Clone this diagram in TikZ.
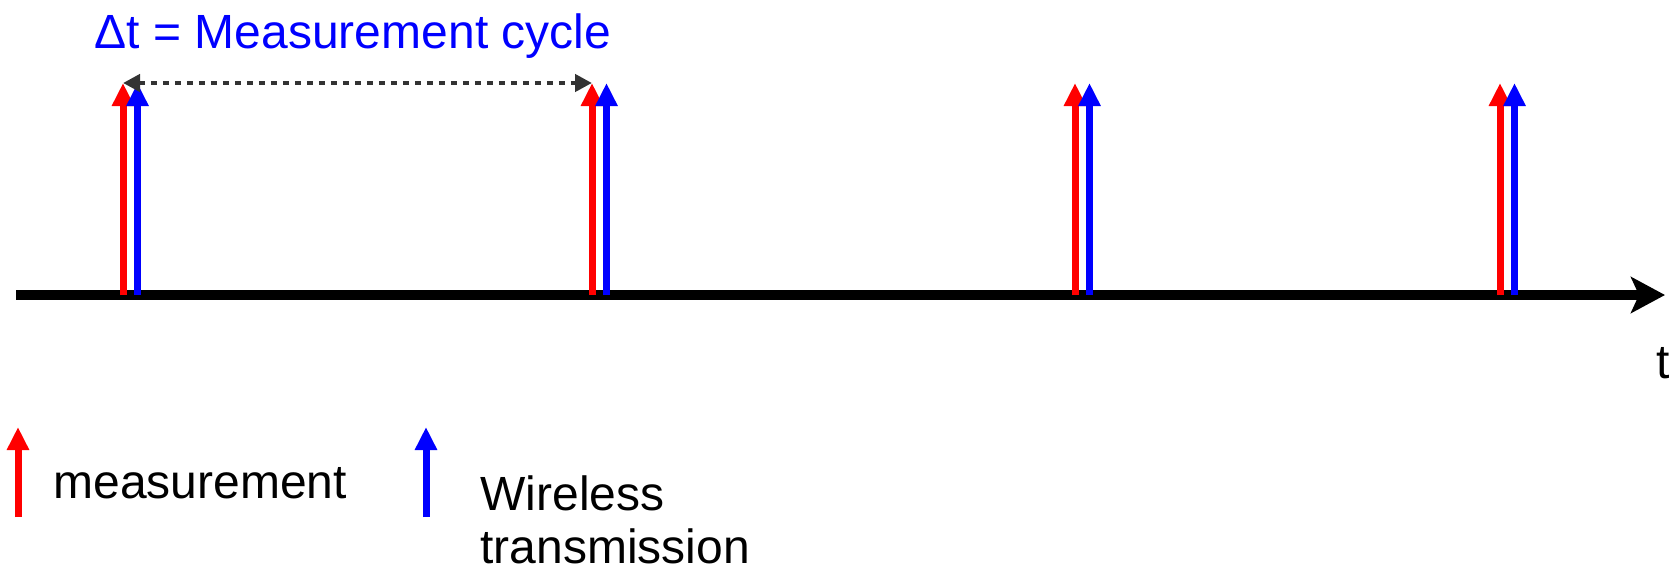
\documentclass[tikz,border=0pt]{standalone}
\usepackage{fontspec}
\setmainfont{Liberation Sans}
\usetikzlibrary{arrows.meta}
\definecolor{dotgray}{RGB}{51,51,51}
\begin{document}
\begin{tikzpicture}[x=0.5pt,y=-0.5pt]
\tikzstyle{every node}+=[inner sep=0pt]
\tikzstyle{lbl}=[font=\fontsize{24}{26.5}\selectfont]
\tikzstyle{pulse}=[line width=3.5pt,-{Triangle[length=11.5pt,width=10.5pt]}]
\useasboundingbox (0,0) rectangle (1672,569);
% time axis
\coordinate (t0) at (16,295);
\coordinate (t1) at (1665,295);
\draw [black,line width=5pt,-{Stealth[length=17pt,width=18pt,inset=4pt]}] (t0) -- (t1);
\node [lbl,anchor=base east] (tlabel) at (1670,378) {t};
% measurement + transmission pulses
\foreach \x/\n in {123/a,592/b,1075/c,1500/d} {
  \coordinate (r\n) at (\x,295);
  \coordinate (rt\n) at (\x,83);
  \coordinate (b\n) at (\x+14.5,295);
  \coordinate (bt\n) at (\x+14.5,83);
  \draw [pulse,red] (r\n) -- (rt\n);
  \draw [pulse,blue] (b\n) -- (bt\n);
}
% cycle length
\draw [dotgray,line width=2.2pt,dash pattern=on 2.8pt off 3.2pt,{Triangle[length=8.5pt,width=8.5pt]}-{Triangle[length=8.5pt,width=8.5pt]}] (rta) -- (rtb);
\node [lbl,blue,anchor=base] (cycle) at (353,48) {Δt = Measurement cycle};
% legend
\coordinate (lr0) at (18,517);
\coordinate (lr1) at (18,427);
\draw [pulse,red] (lr0) -- (lr1);
\node [lbl,anchor=base west] (meas) at (53,498) {measurement};
\coordinate (lb0) at (426,517);
\coordinate (lb1) at (426,427);
\draw [pulse,blue] (lb0) -- (lb1);
\node [lbl,anchor=north west,align=left] (wtx) at (480,475) {Wireless\\transmission};
\end{tikzpicture}
\end{document}
